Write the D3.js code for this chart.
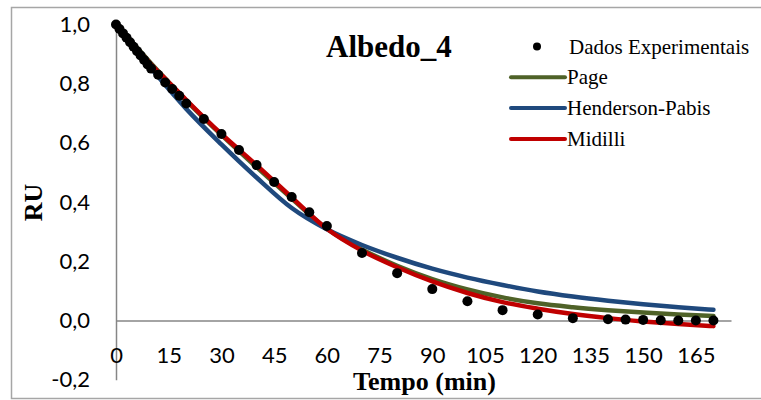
<!DOCTYPE html>
<html>
<head>
<meta charset="utf-8">
<script src="https://cdn.jsdelivr.net/npm/d3@7"></script>
<style>
    body { margin: 0; background: #fff; }
    svg { display: block; }
    .axis text { font-family: Lato, "Open Sans", sans-serif; font-size: 22px; fill: #000; }
    .axis path { stroke: #868686; stroke-width: 1.5; }
</style>
</head>
<body>
<svg class="chart"></svg>
<script>
// experimental points (min, RU)
const times = [0, 1, 2, 3, 4, 5, 6, 7, 8, 9, 10, 12, 14, 16, 18, 20, 25, 30, 35, 40, 45, 50, 55, 60,
    70, 80, 90, 100, 110, 120, 130, 140, 145, 150, 155, 160, 165, 170]
const ruValues = [1.0, 0.985, 0.97, 0.955, 0.94, 0.925, 0.91, 0.895, 0.88, 0.865, 0.851, 0.83, 0.804, 0.782, 0.759, 0.733,
    0.681, 0.63, 0.576, 0.525, 0.468, 0.417, 0.366, 0.319, 0.228, 0.16, 0.106, 0.065, 0.035, 0.02, 0.008,
    0.004, 0.003, 0.002, 0.001, 0.0, 0.0, 0.0]

// fitted model curves
const fitTimes = [0, 5, 10, 15, 20, 30, 40, 50, 60, 70, 80, 90, 100, 110, 120, 130, 140, 150, 160, 170]
const pageValues = [1.0, 0.935, 0.868, 0.805, 0.743, 0.627, 0.518, 0.412, 0.31, 0.24, 0.185, 0.14, 0.105, 0.078,
    0.058, 0.045, 0.035, 0.027, 0.02, 0.015]
const hendersonValues = [1.0, 0.925, 0.852, 0.782, 0.715, 0.595, 0.483, 0.38, 0.308, 0.255, 0.212, 0.175, 0.145,
    0.12, 0.098, 0.081, 0.067, 0.055, 0.045, 0.036]
const midilliValues = [0.99, 0.93, 0.865, 0.805, 0.745, 0.63, 0.525, 0.416, 0.31, 0.236, 0.18, 0.132, 0.093,
    0.062, 0.04, 0.022, 0.008, -0.003, -0.012, -0.019]

const seriesNames = ["Page", "Henderson-Pabis", "Midilli"]
const seriesColors = ["#4F6228", "#1F497D", "#C00000"]
const pointLabel = "Dados Experimentais"
const chartTitle = "Albedo_4"

const xTicks = [0, 15, 30, 45, 60, 75, 90, 105, 120, 135, 150, 165]
const yTicks = [-0.2, 0.0, 0.2, 0.4, 0.6, 0.8, 1.0]

var width = 761, height = 400
var plot = {left: 116, right: 731, top: 24.5, bottom: 379.7}
const serif = '"Liberation Serif", "Times New Roman", serif'

var xScale = d3.scaleLinear()
    .domain([0, 175])
    .range([plot.left, plot.right])

var yScale = d3.scaleLinear()
    .domain([-0.2, 1.0])
    .range([plot.bottom, plot.top])

var svg = d3.select(".chart")
    .attr("width", width)
    .attr("height", height)

// outer chart frame (right edge falls outside the picture)
svg.append("rect")
    .attr("x", 11.5)
    .attr("y", 7.5)
    .attr("width", 760)
    .attr("height", 391)
    .attr("fill", "#fff")
    .attr("stroke", "#a6a6a6")
    .attr("stroke-width", 1.5)

const comma = d => d3.format(".1f")(d).replace("−", "-").replace(".", ",")

svg.append("g")
    .attr("class", "y axis")
    .attr("transform", `translate(${plot.left},0)`)
    .call(d3.axisLeft(yScale)
        .tickValues(yTicks)
        .tickSize(0)
        .tickPadding(26)
        .tickFormat(comma))

svg.append("g")
    .attr("class", "x axis")
    .attr("transform", `translate(0,${yScale(0)})`)
    .call(d3.axisBottom(xScale)
        .tickValues(xTicks)
        .tickSize(0)
        .tickPadding(27)
        .tickFormat(d3.format("d")))

function boldText(txt, size) {
    return svg.append("text")
        .style("font-family", serif)
        .style("font-weight", "bold")
        .style("font-size", size + "px")
        .attr("fill", "#000")
        .text(txt)
}

boldText("RU", 26)
    .attr("text-anchor", "middle")
    .attr("transform", "translate(41.5, 202.5) rotate(-90)")

boldText("Tempo (min)", 26)
    .attr("text-anchor", "middle")
    .attr("x", 424.5)
    .attr("y", 390)

boldText(chartTitle, 31)
    .attr("x", 326)
    .attr("y", 57)

const line = d3.line()
    .x((d, i) => xScale(fitTimes[i]))
    .y(d => yScale(d))
    .curve(d3.curveMonotoneX)

const curves = [pageValues, hendersonValues, midilliValues]
curves.forEach((values, i) => {
    svg.append("path")
        .datum(values)
        .attr("d", line)
        .attr("fill", "none")
        .attr("stroke", seriesColors[i])
        .attr("stroke-width", 4.5)
        .attr("stroke-linecap", "round")
})

svg.append("g")
    .selectAll("circle")
    .data(ruValues)
    .join("circle")
    .attr("cx", (d, i) => xScale(times[i]))
    .attr("cy", d => yScale(d))
    .attr("r", 5)
    .attr("fill", "#000")

// legend
var legend = svg.append("g").attr("class", "legend")
var rowY = [46.5, 77.3, 108.1, 138.9]

function legendText(txt, x, y) {
    legend.append("text")
        .style("font-family", serif)
        .style("font-size", "21px")
        .attr("fill", "#000")
        .attr("x", x)
        .attr("y", y)
        .text(txt)
}

legend.append("circle")
    .attr("cx", 537)
    .attr("cy", rowY[0])
    .attr("r", 4)
    .attr("fill", "#000")
legendText(pointLabel, 569, rowY[0] + 7)

seriesNames.forEach((name, i) => {
    legend.append("line")
        .attr("x1", 511)
        .attr("x2", 565)
        .attr("y1", rowY[i + 1])
        .attr("y2", rowY[i + 1])
        .attr("stroke", seriesColors[i])
        .attr("stroke-width", 4)
        .attr("stroke-linecap", "round")
    legendText(name, 567, rowY[i + 1] + 7)
})
</script>
</body>
</html>
